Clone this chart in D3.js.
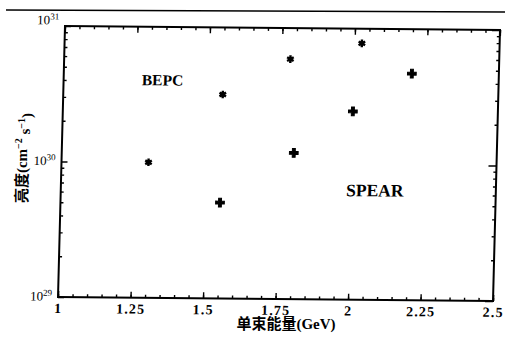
<!DOCTYPE html>
<html>
<head>
<meta charset="utf-8">
<script src="https://cdn.jsdelivr.net/npm/d3@7"></script>
<style>
  body { margin: 0; background: #fff; }
  svg { display: block; }
  text { font-family: "Liberation Serif", "Noto Sans CJK SC", serif; fill: #000; }
</style>
</head>
<body>
<div id="chart"></div>
<script>
(function() {
  'use strict';

  // beam energy (GeV) and luminosity (cm^-2 s^-1)
  var bepcEnergy = [1.3, 1.55, 1.78, 2.025];
  var bepcLum = [1.0e30, 3.2e30, 5.9e30, 7.8e30];
  var spearEnergy = [1.55, 1.8, 2.0, 2.2];
  var spearLum = [5.1e29, 1.2e30, 2.45e30, 4.7e30];
  var xMajor = [1, 1.25, 1.5, 1.75, 2, 2.25, 2.5];
  var xLabels = ['1', '1.25', '1.5', '1.75', '2', '2.25', '2.5'];
  var yMajor = [1e29, 1e30, 1e31];
  var yExp = ['29', '30', '31'];

  var width = 505, height = 342;
  var w = 435, h = 271;

  var svg = d3.select('#chart').append('svg').attr('width', width).attr('height', height);

  // rule above the figure
  svg.append('line').attr('x1', 6).attr('y1', 10).attr('x2', 505).attr('y2', 12)
    .attr('stroke', '#000').attr('stroke-width', 1.6);

  // the scan is slightly skewed, so the plot sits in a sheared group
  var g = svg.append('g').attr('transform', 'matrix(1,0.0092,-0.0258,1,65,26)');

  var x = d3.scaleLinear().domain([1, 2.5]).range([0, w]);
  var y = d3.scaleLog().domain([1e29, 1e31]).range([h, 0]);

  var xMinor = d3.range(1, 2.5001, 0.05).map(function(d) { return +d.toFixed(2); });
  var yMinor = [];
  [1e29, 1e30].forEach(function(b) { d3.range(2, 10).forEach(function(k) { yMinor.push(b * k); }); });

  function styleAxis(sel) {
    sel.select('.domain').remove();
    sel.selectAll('line').attr('stroke', '#000').attr('stroke-width', 1.4);
  }

  // bottom
  g.append('g').attr('transform', 'translate(0,' + h + ')')
    .call(d3.axisBottom(x).tickValues(xMinor).tickSize(-3).tickFormat(''))
    .call(styleAxis);
  g.append('g').attr('transform', 'translate(0,' + h + ')')
    .call(d3.axisBottom(x).tickValues(xMajor).tickSize(-6).tickPadding(6)
      .tickFormat(function(d, i) { return xLabels[i]; }))
    .call(styleAxis)
    .selectAll('text').attr('font-size', 14).attr('font-weight', 'bold').attr('letter-spacing', 1.2);

  // top
  g.append('g')
    .call(d3.axisTop(x).tickValues(xMinor).tickSize(-3).tickFormat(''))
    .call(styleAxis);
  g.append('g')
    .call(d3.axisTop(x).tickValues(xMajor).tickSize(-6).tickFormat(''))
    .call(styleAxis);

  // left
  g.append('g')
    .call(d3.axisLeft(y).tickValues(yMinor).tickSize(-3).tickFormat(''))
    .call(styleAxis);
  var yl = g.append('g')
    .call(d3.axisLeft(y).tickValues(yMajor).tickSize(-6).tickPadding(6).tickFormat(''))
    .call(styleAxis);
  yl.selectAll('.tick text').each(function(d, i) {
    var t = d3.select(this).attr('font-size', 13).attr('dy', i === 2 ? '-0.15em' : '0.25em');
    t.append('tspan').text('10');
    t.append('tspan').attr('font-size', 9).attr('dy', '-0.55em').text(yExp[i]);
  });

  // right
  g.append('g').attr('transform', 'translate(' + w + ',0)')
    .call(d3.axisRight(y).tickValues(yMinor).tickSize(-3).tickFormat(''))
    .call(styleAxis);
  g.append('g').attr('transform', 'translate(' + w + ',0)')
    .call(d3.axisRight(y).tickValues(yMajor).tickSize(-8).tickFormat(''))
    .call(styleAxis);

  // frame
  g.append('rect').attr('width', w).attr('height', h)
    .attr('fill', 'none').attr('stroke', '#000').attr('stroke-width', 2);

  // data
  var bepc = bepcEnergy.map(function(e, i) { return [e, bepcLum[i]]; });
  var spear = spearEnergy.map(function(e, i) { return [e, spearLum[i]]; });

  g.selectAll('path.bepc').data(bepc).enter().append('path').attr('class', 'bepc')
    .attr('transform', function(d) { return 'translate(' + x(d[0]) + ',' + y(d[1]) + ')'; })
    .attr('d', d3.symbol(d3.symbolAsterisk, 40))
    .attr('fill', 'none').attr('stroke', '#000').attr('stroke-width', 2.4);
  g.selectAll('circle.bepc').data(bepc).enter().append('circle').attr('class', 'bepc')
    .attr('cx', function(d) { return x(d[0]); }).attr('cy', function(d) { return y(d[1]); })
    .attr('r', 2.4).attr('fill', '#000');

  g.selectAll('path.spear').data(spear).enter().append('path').attr('class', 'spear')
    .attr('transform', function(d) { return 'translate(' + x(d[0]) + ',' + y(d[1]) + ')'; })
    .attr('d', d3.symbol(d3.symbolCross, 42))
    .attr('fill', '#000').attr('stroke', '#000').attr('stroke-width', 1);

  g.append('text').attr('x', x(1.27)).attr('y', y(3.7e30)).attr('font-size', 15.5).attr('font-weight', 'bold')
    .text('BEPC');
  g.append('text').attr('x', x(1.984)).attr('y', y(5.8e29)).attr('font-size', 17.5).attr('font-weight', 'bold')
    .text('SPEAR');

  // axis titles
  svg.append('text').attr('x', 286).attr('y', 329).attr('text-anchor', 'middle')
    .attr('font-size', 15).attr('font-weight', 'bold').text('单束能量(GeV)');

  var yt = svg.append('text').attr('transform', 'translate(27,158) rotate(-90)')
    .attr('text-anchor', 'middle').attr('font-size', 15).attr('font-weight', 'bold');
  yt.append('tspan').text('亮度(cm');
  yt.append('tspan').attr('font-size', 10).attr('dy', '-0.5em').text('−2');
  yt.append('tspan').attr('dy', '0.5em').text(' s');
  yt.append('tspan').attr('font-size', 10).attr('dy', '-0.5em').text('−1');
  yt.append('tspan').attr('dy', '0.5em').text(')');
}).call(this);
</script>
</body>
</html>
